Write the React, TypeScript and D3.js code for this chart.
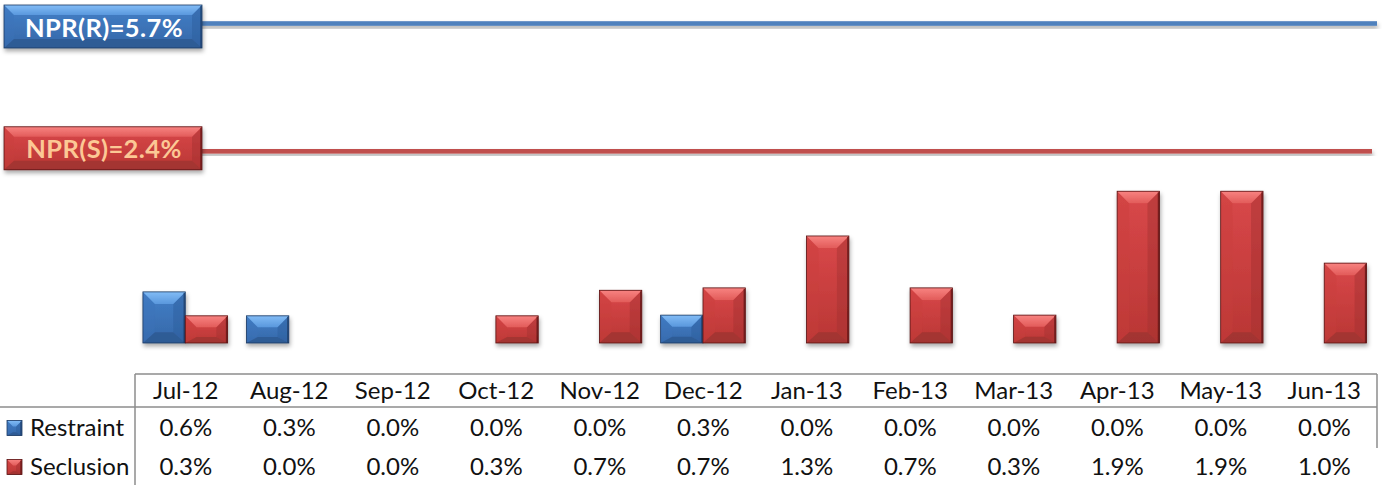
import React, { useEffect } from "react";
import * as d3 from "d3";

const months = ["Jul-12", "Aug-12", "Sep-12", "Oct-12", "Nov-12", "Dec-12", "Jan-13", "Feb-13", "Mar-13", "Apr-13", "May-13", "Jun-13"];
const restraint = [0.64, 0.34, 0, 0, 0, 0.349, 0, 0, 0, 0, 0, 0];
const seclusion = [0.34, 0, 0, 0.34, 0.66, 0.69, 1.34, 0.69, 0.349, 1.9, 1.9, 1.0];
const seriesNames = ["Restraint", "Seclusion"];
const nprR = 5.7;
const nprS = 2.4;

const W = 1382;
const H = 485;
const FONT = "Lato, 'Open Sans', sans-serif";

type Pal = { face0: string; face1: string; top0: string; top1: string; left: string; right: string; bottom: string; edge: string };
const BLUE: Pal = { face0: "#4380c8", face1: "#3567a8", top0: "#82bcf6", top1: "#5a98dd", left: "#3c74bb", right: "#2d5d9c", bottom: "#2d5890", edge: "#1d3a63" };
const RED: Pal = { face0: "#d9484a", face1: "#b93634", top0: "#f88381", top1: "#e25c5a", left: "#c93f3d", right: "#a23030", bottom: "#9e3331", edge: "#581313" };

function Bevel({ x, y, w, h, pal, id, bevel = 12, shadow = true }: { x: number; y: number; w: number; h: number; pal: Pal; id: string; bevel?: number; shadow?: boolean }) {
  if (h <= 0) return null;
  const bt = Math.min(bevel, h / 2.4);
  const bb = Math.min(bevel * 0.9, h / 4.5);
  const s = Math.min(bt, w / 2.5);
  const pts = (a: number[][]) => a.map((p) => p.join(",")).join(" ");
  return (
    <g filter={shadow ? "url(#shadow)" : undefined}>
      <rect x={x} y={y} width={w} height={h} fill={`url(#face-${id})`} />
      <polygon points={pts([[x, y], [x + s, y + bt], [x + s, y + h - bb], [x, y + h]])} fill={pal.left} opacity={0.35} />
      <polygon points={pts([[x + w, y], [x + w - s, y + bt], [x + w - s, y + h - bb], [x + w, y + h]])} fill={pal.right} opacity={0.45} />
      <polygon points={pts([[x, y + h], [x + w, y + h], [x + w - s, y + h - bb], [x + s, y + h - bb]])} fill={pal.bottom} opacity={0.8} />
      <polygon points={pts([[x, y], [x + w, y], [x + w - s, y + bt], [x + s, y + bt]])} fill={`url(#top-${id})`} />
      <line x1={x + w - 1} x2={x + w - 1} y1={y + 1} y2={y + h} stroke={pal.edge} strokeWidth={1.5} opacity={0.7} />
      <rect x={x} y={y} width={w} height={h} fill="none" stroke={pal.edge} strokeWidth={0.8} />
    </g>
  );
}

function Defs() {
  const grads = [
    ["blue", BLUE],
    ["red", RED],
  ] as [string, Pal][];
  return (
    <defs>
      <filter id="shadow" x="-20%" y="-30%" width="140%" height="180%">
        <feDropShadow dx="1" dy="3" stdDeviation="2" floodColor="#000" floodOpacity="0.33" />
      </filter>
      {grads.map(([k, p]) => (
        <React.Fragment key={k}>
          <linearGradient id={`face-${k}`} x1="0" y1="0" x2="0" y2="1">
            <stop offset="0" stopColor={p.face0} />
            <stop offset="1" stopColor={p.face1} />
          </linearGradient>
          <linearGradient id={`top-${k}`} x1="0" y1="0" x2="0" y2="1">
            <stop offset="0" stopColor={p.top0} />
            <stop offset="1" stopColor={p.top1} />
          </linearGradient>
        </React.Fragment>
      ))}
    </defs>
  );
}

export default function App() {
  useEffect(() => {
    document.body.style.margin = "0";
  }, []);

  const tableLeft = 135;
  const tableRight = 1377;
  const baseline = 343;

  const col = d3.scaleBand<string>().domain(months).range([tableLeft, tableRight]).padding(0);
  const x = d3.scaleBand<string>().domain(months).range([tableLeft - 1.5, tableRight - 1]).paddingInner(0.182).paddingOuter(0.091);
  const inner = d3.scaleBand<string>().domain(seriesNames).range([0, x.bandwidth()]).padding(0);
  const y = d3.scaleLinear().domain([0, 4]).range([baseline, 23.5]).clamp(true);

  const series = [
    { name: "Restraint", values: restraint, pal: BLUE, id: "blue" },
    { name: "Seclusion", values: seclusion, pal: RED, id: "red" },
  ];

  const fmt = (v: number) => v.toFixed(1) + "%";
  const headerY = 391;
  const rowY = [428, 467];
  const fs = 24;

  const annotations = [
    { label: "NPR(R)=" + nprR + "%", value: nprR, pal: BLUE, id: "blue", text: "#ffffff", lineColor: "#4f81bd", lineEnd: 1377, boxShift: 3 },
    { label: "NPR(S)=" + nprS + "%", value: nprS, pal: RED, id: "red", text: "#fcc895", lineColor: "#c0504d", lineEnd: 1372, boxShift: -3 },
  ];

  return (
    <svg width={W} height={H} style={{ position: "absolute", left: 0, top: 0, display: "block" }} fontFamily={FONT}>
      <Defs />
      <rect width={W} height={H} fill="#ffffff" />

      {/* annotation lines */}
      {annotations.map((a) => {
        const ly = y(a.value);
        const cy = ly + a.boxShift;
        return (
          <g key={a.label}>
            <rect x={198} width={a.lineEnd - 198} y={ly - 2.3} height={4.6} fill={a.lineColor} filter="url(#shadow)" />
            <Bevel x={4} y={cy - 21.5} w={198} h={43} pal={a.pal} id={a.id} bevel={10} />
            <text x={104} y={cy + 1} dy="0.36em" textAnchor="middle" fill={a.text} fontWeight={700} fontSize={25.5} letterSpacing={0.4}>
              {a.label}
            </text>
          </g>
        );
      })}

      {/* bars */}
      {months.map((m, i) => (
        <g key={m} transform={`translate(${x(m)},0)`}>
          {series.map((s) => {
            const v = s.values[i];
            const top = y(v);
            return <Bevel key={s.name} x={inner(s.name)!} y={top} w={inner.bandwidth()} h={baseline - top} pal={s.pal} id={s.id} />;
          })}
        </g>
      ))}

      {/* data table */}
      <g stroke="#8c8c8c" strokeWidth={1.5}>
        <line x1={tableLeft} x2={tableRight} y1={374} y2={374} />
        <line x1={0} x2={tableRight} y1={407} y2={407} />
        <line x1={tableLeft} x2={tableLeft} y1={374} y2={H} />
        <line x1={tableRight} x2={tableRight} y1={374} y2={448} />
      </g>
      {months.map((m) => (
        <text key={m} x={col(m)! + col.bandwidth() / 2 - 1} y={headerY} dy="0.35em" textAnchor="middle" fontSize={fs} fill="#111">
          {m}
        </text>
      ))}
      {series.map((s, r) => (
        <g key={s.name}>
          <Bevel x={7} y={rowY[r] - 7.5} w={15} h={15} pal={s.pal} id={s.id} bevel={6} shadow={false} />
          <text x={30} y={rowY[r]} dy="0.35em" fontSize={fs} fill="#111">
            {s.name}
          </text>
          {months.map((m, i) => (
            <text key={m} x={col(m)! + col.bandwidth() / 2 - 1} y={rowY[r]} dy="0.35em" textAnchor="middle" fontSize={fs} fill="#111">
              {fmt(s.values[i])}
            </text>
          ))}
        </g>
      ))}
    </svg>
  );
}
